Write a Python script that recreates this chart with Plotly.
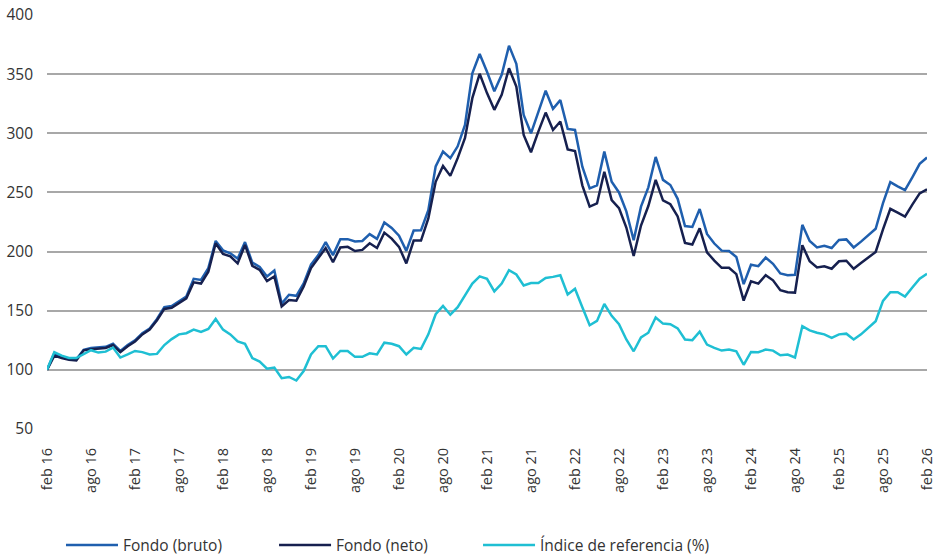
import pandas as pd
import plotly.graph_objects as go

fondo_bruto = [
    100, 114, 111, 109.5, 109, 117, 118.5, 119, 119.5, 122, 116, 121, 125, 131, 135, 143, 153, 154, 158, 162,
    177, 176, 186, 209, 201, 198.6, 194, 208, 190.7, 187, 179, 184, 156, 163.5, 162.6, 173, 189, 197, 208, 197,
    210.5, 210.5, 208.5, 209, 214.7, 210.7, 224.6, 220, 213.5, 200.6, 217.8, 218, 235, 272, 284.5, 279, 289, 307, 350.8, 367,
    352, 335.5, 349.4, 374, 358.8, 315.5, 300, 318.4, 336, 320.6, 328, 303.7, 302.8, 271.8, 253.4, 256, 284.5, 259, 250, 234,
    209.6, 238, 254.3, 280, 260.6, 256.3, 244.6, 221.6, 220.8, 236, 214.9, 206.8, 200.8, 200.5, 195.4, 172.5, 188.9, 187.7, 194.9, 189.7,
    181.5, 180, 180.3, 222.6, 209, 203.5, 204.9, 203, 209.8, 210.3, 203.5, 208.4, 213.9, 219.3, 241, 258.7, 255.2, 251.9, 262.8, 274.2,
    279.5,
]

fondo_neto = [
    100, 112, 110, 108.5, 108, 116.5, 117.5, 118, 118.5, 121, 115, 120, 124, 130, 134, 142, 151.5, 152.5, 156.5, 160.5,
    174, 173, 183, 207, 198, 196, 190, 205.6, 188, 184.5, 175, 179, 153.6, 159, 158.4, 170.5, 186, 194, 203, 191,
    203.5, 204, 200.5, 201.4, 207, 203, 216, 211, 204, 190, 209.3, 209.3, 228, 259, 272.4, 264, 279, 296, 329.7, 350.3,
    334, 319.8, 332.5, 355, 339.5, 298.6, 284, 301.4, 317.5, 302.8, 310, 286.4, 285, 256, 238, 240.7, 267.5, 243.5, 236.7, 220.3,
    196.3, 222, 238.5, 260.6, 243.2, 240, 229.7, 207.3, 205.9, 219.7, 199.4, 192.3, 186.3, 186.3, 180.9, 158.6, 174.9, 172.9, 180, 175.7,
    167.4, 165.6, 165.3, 205.4, 191.8, 186.6, 187.5, 185.5, 191.8, 192.3, 185.5, 190.3, 195.2, 199.7, 218.8, 236.1, 232.9, 229.6, 239.7, 249.2,
    252.7,
]

indice_referencia = [
    100, 115, 112, 110, 110, 113, 116.6, 114.6, 115.4, 118.8, 110.4, 113, 116, 115, 113, 113.5, 121, 126, 130, 131,
    134, 132, 134.6, 143, 134, 130, 124, 122, 110, 107, 101, 102, 93, 94, 91, 99, 113, 120, 120, 109.6,
    116, 116, 111, 111, 114, 113, 123, 122, 120, 113, 118.6, 117.7, 130, 147, 154, 146.6, 153, 163, 173, 179,
    177, 166.3, 172.9, 184.3, 180.6, 171.4, 173.4, 173.4, 177.7, 178.6, 180, 163.7, 168.6, 152.9, 137.7, 141.4, 155.7, 145.7, 138.6, 125.7,
    115.7, 127.5, 131.4, 144.3, 139.1, 138.6, 135.1, 125.7, 125.1, 132.3, 121.4, 118.6, 116.3, 117.1, 115.7, 104.3, 115.1, 114.9, 117.1, 116.3,
    112.3, 113, 110.5, 136.9, 133.4, 131.4, 130, 127.1, 130, 130.6, 125.7, 130, 135.4, 141.1, 158.3, 165.6, 165.6, 162, 169.6, 177,
    181.3,
]

tick_labels = [
    "feb 16", "ago 16", "feb 17", "ago 17", "feb 18", "ago 18", "feb 19", "ago 19", "feb 20", "ago 20",
    "feb 21", "ago 21", "feb 22", "ago 22", "feb 23", "ago 23", "feb 24", "ago 24", "feb 25", "ago 25", "feb 26",
]

series_names = ["Fondo (bruto)", "Fondo (neto)", "Índice de referencia (%)"]
series_colors = ["#1f5fae", "#16204f", "#1fbfd3"]
legend_ids = ["legend", "legend2", "legend3"]
legend_x = [0.0159, 0.2580, 0.4898]

months = list(range(len(fondo_bruto)))
tick_vals = months[::6]

fig = go.Figure()
for name, vals, col, lid in zip(series_names, [fondo_bruto, fondo_neto, indice_referencia], series_colors, legend_ids):
    fig.add_trace(go.Scatter(x=months, y=vals, mode="lines", name=name, legend=lid,
                             line=dict(color=col, width=2.5)))

font_family = "Open Sans, Noto Sans, sans-serif"
legend_common = dict(orientation="h", xanchor="left", yref="container", y=0.021, yanchor="middle",
                     font=dict(size=15.5, color="#333333"), itemwidth=52,
                     bgcolor="rgba(0,0,0,0)", borderwidth=0)
fig.update_layout(
    width=933, height=557,
    margin=dict(l=47, r=6, t=15, b=128),
    paper_bgcolor="white", plot_bgcolor="white",
    font=dict(family=font_family, size=14, color="#333333"),
    showlegend=True,
    legend=dict(x=legend_x[0], **legend_common),
    legend2=dict(x=legend_x[1], **legend_common),
    legend3=dict(x=legend_x[2], **legend_common),
)
fig.update_xaxes(
    range=[0, 120], tickmode="array", tickvals=tick_vals, ticktext=tick_labels,
    tickangle=-90, showgrid=False, zeroline=False, showline=False, automargin=False,
    ticklabeloverflow="allow",
    tickfont=dict(size=14.5, color="#333333"), ticks="", ticklabelstandoff=15,
)
fig.update_yaxes(
    range=[50, 400], tickmode="array", tickvals=[50, 100, 150, 200, 250, 300, 350, 400],
    showgrid=True, gridcolor="#a8a8a8", gridwidth=1.5, zeroline=False, showline=False, automargin=False,
    tickfont=dict(size=15.5, color="#333333"), ticks="", ticklabelstandoff=13,
)

fig.write_html("out.html", config={"displayModeBar": False},
               post_script="document.body.style.margin='0px';")
